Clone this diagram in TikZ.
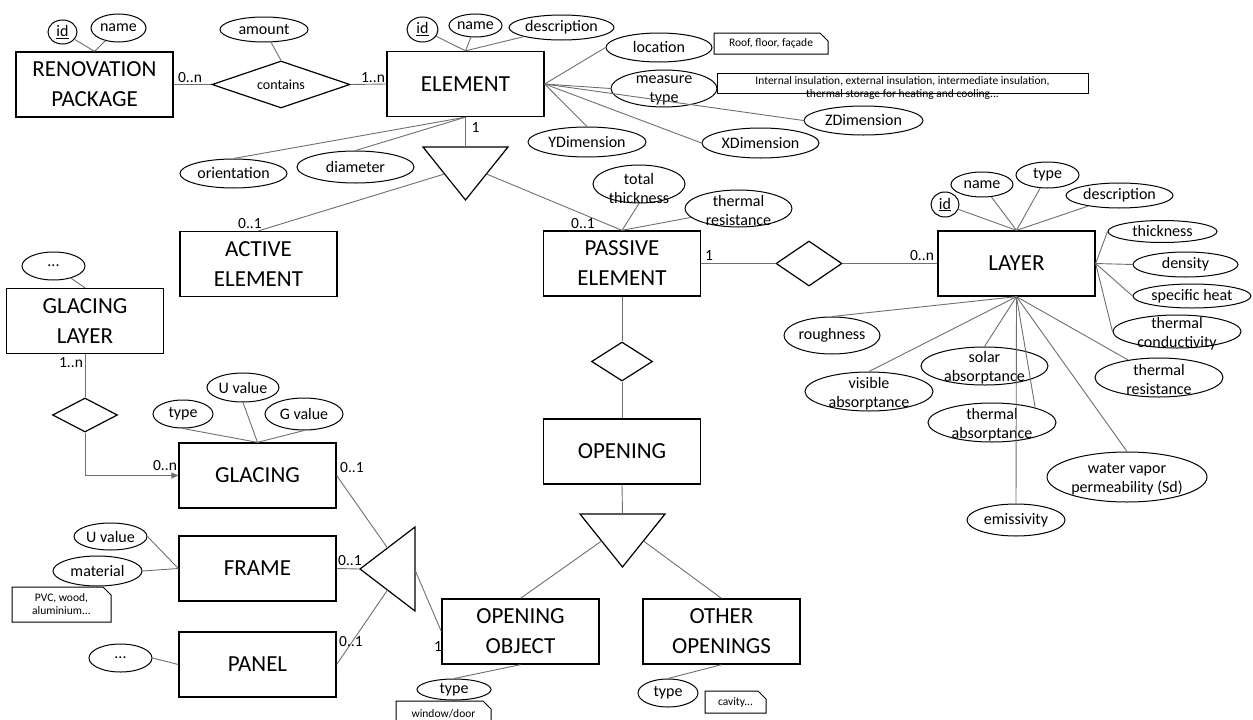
\documentclass[tikz,border=0pt]{standalone}
\usepackage{fontspec}
\setmainfont{Carlito}
\usetikzlibrary{shapes.geometric}
\usetikzlibrary{shapes.misc}
\usetikzlibrary{arrows.meta}

\definecolor{linkgray}{RGB}{110,110,110}

\newcommand\entfont{\fontsize{23}{30}\selectfont}
\newcommand\attfont{\fontsize{16}{19}\selectfont}
\newcommand\relfont{\fontsize{14}{16}\selectfont}
\newcommand\cardfont{\fontsize{15.5}{18}\selectfont}
\newcommand\notefont{\fontsize{11.5}{13}\selectfont}

\tikzset{
	isadown/.pic = {
		\draw [line width=1.2pt] (-42.5,0) -- (42.5,0) -- (0,53) -- cycle;
		\coordinate (-top) at (0,0);
		\coordinate (-left) at (-21,27);
		\coordinate (-right) at (21,27);
	}
}
\tikzset{dim/.style 2 args={minimum width=#1pt, minimum height=#2pt}}
\tikzstyle{entity} = [rectangle, draw=black, line width=1.3pt, minimum width=157pt, minimum height=65pt, inner sep=2pt, align=center, font=\entfont]
\tikzstyle{attr} = [ellipse, draw=black, line width=1pt, inner sep=0pt, align=center, font=\attfont]
\tikzstyle{attrtxt} = [inner sep=0pt, align=center, font=\attfont, yshift=-2pt]
\tikzstyle{rel} = [diamond, draw=black, line width=1.2pt, inner sep=0pt, font=\relfont]
\tikzstyle{note} = [chamfered rectangle, chamfered rectangle corners=north east, chamfered rectangle sep=4pt, draw=black, line width=1pt, inner sep=0pt, align=center, font=\notefont]
\tikzstyle{notetxt} = [inner sep=0pt, align=center, font=\notefont]
\tikzstyle{card} = [inner sep=0pt, font=\cardfont]
\tikzstyle{link} = [draw=linkgray, line width=0.9pt]

\begin{document}
\begin{tikzpicture}[x=1pt, y=-1pt]

	\useasboundingbox (0,0) rectangle (1253,720);
	\clip (0,0) rectangle (1253,720);

	% entities
	\node [entity] (renpack) at (94.5,84.5) {RENOVATION\\PACKAGE};
	\node [entity] (element) at (465.5,84) {ELEMENT};
	\node [entity] (active) at (258.5,264) {ACTIVE\\ELEMENT};
	\node [entity] (passive) at (622,263.5) {PASSIVE\\ELEMENT};
	\node [entity] (layer) at (1016.5,263.5) {LAYER};
	\node [entity] (glayer) at (85,321) {GLACING\\LAYER};
	\node [entity] (glacing) at (257.5,475.5) {GLACING};
	\node [entity] (frame) at (257.5,568.5) {FRAME};
	\node [entity] (panel) at (257.5,664.5) {PANEL};
	\node [entity] (opening) at (622,451.5) {OPENING};
	\node [entity] (openobj) at (520.5,631.5) {OPENING\\OBJECT};
	\node [entity] (otheropen) at (721.5,631.5) {OTHER\\OPENINGS};

	% relationships
	\node [rel, dim={138}{47}, aspect=3] (contains) at (281,84.5) {contains};
	\node [rel, dim={66}{45}] (rel-layer) at (809,263.5) {};
	\node [rel, dim={61}{39}] (rel-open) at (622,361.5) {};
	\node [rel, dim={65}{34}] (rel-glayer) at (85,415) {};

	% specialisations
	\path (465.5,147) pic (isa-elem) {isadown};
	\path (622.5,514) pic (isa-open) {isadown};
	\draw [line width=1.2pt] (360,569) -- (415,527) -- (415,611) -- cycle;
	\coordinate (isa-obj-up) at (387.5,548);
	\coordinate (isa-obj-tip) at (360,569);
	\coordinate (isa-obj-low) at (387.5,590);
	\coordinate (isa-obj-right) at (415,570);

	% attributes of renovation package
	\node [attr, dim={29}{24}] (rp-id) at (62.5,32) {\underline{id}};
	\node [attr, dim={55}{28}] (rp-name) at (118.5,28) {name};
	\node [attr, dim={88}{25}] (amount) at (264,29.5) {amount};

	% attributes of element
	\node [attr, dim={31}{25}] (el-id) at (422.5,29.5) {\underline{id}};
	\node [attr, dim={53}{23}] (el-name) at (475.5,25.5) {name};
	\node [attr, dim={105}{25}] (el-desc) at (561.5,27.5) {description};
	\node [attr, dim={106}{29}] (el-loc) at (659,47.5) {location};
	\node [attr, dim={106}{37}, label={[attrtxt]center:{measure\\type}}] (el-mtype) at (664,88.5) {};
	\node [attr, dim={119}{29}] (el-zdim) at (863.5,120.5) {ZDimension};
	\node [attr, dim={117}{30}] (el-xdim) at (760.5,143) {XDimension};
	\node [attr, dim={118}{30}] (el-ydim) at (587,142) {YDimension};
	\node [attr, dim={107}{29}] (el-orient) at (233.5,173.5) {orientation};
	\node [attr, dim={117}{32}] (el-diam) at (355.5,167) {diameter};
	\node [note, dim={114}{21}] (n-loc) at (771,43.5) {Roof, floor, façade};
	\node [note, dim={371}{20}, label={[notetxt, yshift=-5pt]center:{Internal insulation, external insulation, intermediate insulation,\\thermal storage for heating and cooling...}}] (n-mtype) at (902.5,83) {};

	% attributes of passive element
	\node [attr, dim={92}{38}, label={[attrtxt, yshift=-3pt]center:{total\\thickness}}] (pe-thick) at (639,184) {};
	\node [attr, dim={107}{37}, label={[attrtxt]center:{thermal\\resistance}}] (pe-res) at (738.5,208.5) {};

	% attributes of layer
	\node [attr, dim={28}{25}] (ly-id) at (945,204.5) {\underline{id}};
	\node [attr, dim={62}{25}] (ly-name) at (982,184.5) {name};
	\node [attr, dim={63}{26}] (ly-type) at (1047.5,175) {type};
	\node [attr, dim={107}{25}] (ly-desc) at (1119.5,195.5) {description};
	\node [attr, dim={109}{22}] (ly-thick) at (1162.5,231.5) {thickness};
	\node [attr, dim={105}{25}] (ly-dens) at (1185.5,264.5) {density};
	\node [attr, dim={118}{24}] (ly-spec) at (1192,296) {specific heat};
	\node [attr, dim={128}{33}, label={[attrtxt]center:{thermal\\conductivity}}] (ly-cond) at (1177,331.5) {};
	\node [attr, dim={128}{39}, label={[attrtxt]center:{thermal\\resistance}}] (ly-res) at (1159,377.5) {};
	\node [attr, dim={160}{50}, label={[attrtxt]center:{water vapor\\permeability (Sd)}}] (ly-water) at (1127,477) {};
	\node [attr, dim={98}{32}] (ly-emis) at (1016,520) {emissivity};
	\node [attr, dim={128}{39}, label={[attrtxt]center:{thermal\\absorptance}}] (ly-tabs) at (992,422.5) {};
	\node [attr, dim={128}{39}, label={[attrtxt]center:{visible\\absorptance}}] (ly-vabs) at (869,391.5) {};
	\node [attr, dim={127}{38}, label={[attrtxt]center:{solar\\absorptance}}] (ly-sabs) at (984.5,366) {};
	\node [attr, dim={96}{37}] (ly-rough) at (832,335.5) {roughness};

	% glacing, frame, panel
	\node [attr, dim={63}{28}] (gl-more) at (53.5,266) {...};
	\node [attr, dim={60}{28}] (g-type) at (183,414) {type};
	\node [attr, dim={72}{29}] (g-u) at (243,387.5) {U value};
	\node [attr, dim={78}{32}] (g-g) at (304,414) {G value};
	\node [attr, dim={73}{27}] (f-u) at (110.5,536.5) {U value};
	\node [attr, dim={89}{30}] (f-mat) at (97.5,571) {material};
	\node [note, dim={99}{35}] (n-mat) at (61.5,604.5) {PVC, wood,\\aluminium...};
	\node [attr, dim={63}{28}] (p-more) at (120.5,658) {...};

	% openings
	\node [attr, dim={74}{21}] (oo-type) at (454,689.5) {type};
	\node [note, dim={95}{26}] (n-oo) at (443.5,714) {window/door};
	\node [attr, dim={60}{28}] (ot-type) at (668,693) {type};
	\node [note, dim={61}{22}] (n-ot) at (735.5,702) {cavity...};

	% links
	\draw [link] (renpack.east) -- (contains.west);
	\draw [link] (contains.east) -- (element.west);
	\draw [link] (contains.north) -- (amount);
	\draw [link] (renpack.north) -- (rp-id);
	\draw [link] (renpack.north) -- (rp-name);

	\draw [link] (element.north) -- (el-id);
	\draw [link] (element.north) -- (el-name);
	\draw [link] (element.north) -- (el-desc);
	\draw [link] (element.east) -- (el-loc.west);
	\draw [link] (element.east) -- (el-mtype.west);
	\draw [link] (element.east) -- (el-zdim.west);
	\draw [link] (element.east) -- (el-xdim.west);
	\draw [link] (element.east) -- (el-ydim.north);
	\draw [link] (element.south) -- (el-orient.north);
	\draw [link] (element.south) -- (el-diam.north);
	\draw [link] (element.south) -- (isa-elem-top);
	\draw [link] (isa-elem-left) -- (active.north);
	\draw [link] (isa-elem-right) -- (passive.north);

	\draw [link] (passive.north) -- (pe-thick.south);
	\draw [link] (passive.north) -- (pe-res);
	\draw [link] (passive.east) -- (rel-layer.west);
	\draw [link] (rel-layer.east) -- (layer.west);
	\draw [link] (passive.south) -- (rel-open.north);
	\draw [link] (rel-open.south) -- (opening.north);
	\draw [link] (opening.south) -- (isa-open-top);
	\draw [link] (isa-open-left) -- (openobj.north);
	\draw [link] (isa-open-right) -- (otheropen.north);

	\draw [link] (layer.north) -- (ly-id);
	\draw [link] (layer.north) -- (ly-name);
	\draw [link] (layer.north) -- (ly-type);
	\draw [link] (layer.north) -- (ly-desc);
	\draw [link] (layer.east) -- (ly-thick.west);
	\draw [link] (layer.east) -- (ly-dens.west);
	\draw [link] (layer.east) -- (ly-spec.west);
	\draw [link] (layer.east) -- (ly-cond.west);
	\draw [link] (layer.south) -- (ly-res);
	\draw [link] (layer.south) -- (ly-water.north);
	\draw [link] (layer.south) -- (ly-emis.north);
	\draw [link] (layer.south) -- (ly-tabs.19);
	\draw [link] (layer.south) -- (ly-vabs.north);
	\draw [link] (layer.south) -- (ly-sabs.north);
	\draw [link] (layer.south) -- (ly-rough.north);

	\draw [link] (gl-more) -- (glayer.north);
	\draw [link] (glayer.south) -- (rel-glayer.north);
	\draw [link, -{Triangle[length=7pt, width=6pt]}] (rel-glayer.south) |- (glacing.west);
	\draw [link] (glacing.north) -- (g-type.south);
	\draw [link] (glacing.north) -- (g-u.south);
	\draw [link] (glacing.north) -- (g-g.south);
	\draw [link] (frame.west) -- (f-u.east);
	\draw [link] (frame.west) -- (f-mat.east);
	\draw [link] (p-more.east) -- (panel.west);
	\draw [link] (glacing.east) -- (isa-obj-up);
	\draw [link] (frame.east) -- (isa-obj-tip);
	\draw [link] (panel.east) -- (isa-obj-low);
	\draw [link] (isa-obj-right) -- (openobj.west);
	\draw [link] (openobj.south) -- (oo-type.north);
	\draw [link] (otheropen.south) -- (ot-type.north);

	% cardinalities
	\node [card] (c-rp) at (190,78) {0..n};
	\node [card] (c-el) at (373,78) {1..n};
	\node [card] (c-isa) at (475.5,128) {1};
	\node [card] (c-active) at (250,224) {0..1};
	\node [card] (c-passive) at (583,224) {0..1};
	\node [card] (c-pl) at (709,256) {1};
	\node [card] (c-lp) at (922,256) {0..n};
	\node [card] (c-gl) at (71,363) {1..n};
	\node [card] (c-gg) at (165,466) {0..n};
	\node [card] (c-glacing) at (352,468) {0..1};
	\node [card] (c-frame) at (350,561) {0..1};
	\node [card] (c-panel) at (351,642) {0..1};
	\node [card] (c-oo) at (438,647) {1};

\end{tikzpicture}
\end{document}
